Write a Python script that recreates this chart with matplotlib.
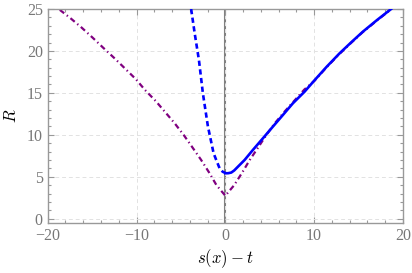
import numpy as np
import matplotlib.pyplot as plt
from matplotlib.ticker import MultipleLocator

plt.rcParams['font.family'] = ['Liberation Serif', 'DejaVu Serif']
plt.rcParams['mathtext.fontset'] = 'cm'

# purple dash-dot curve
purple_x = [-18.64, -17.5, -16.2, -14.96, -13.77, -12.45, -11.29, -10.09, -9.04, -7.84,
            -6.75, -5.7, -4.66, -3.71, -2.74, -1.84, -1.01, 0.0,
            1.0, 1.9, 2.75, 3.7, 4.6, 5.55, 6.7, 7.8, 8.9, 10.0, 11.4, 12.86, 14.2, 15.48, 17.1, 18.7]
purple_R = [24.9, 23.96, 22.8, 21.6, 20.4, 19.1, 17.9, 16.65, 15.34, 14.03,
            12.68, 11.37, 9.94, 8.51, 7.03, 5.53, 4.02, 2.74,
            4.0, 5.5, 7.0, 8.5, 9.95, 11.35, 12.8, 14.1, 15.4, 16.4, 18.05, 19.65, 21.0, 22.25, 23.65, 25.0]

# blue dashed branch (left of zero)
dash_x = [-3.85, -3.45, -2.97, -2.52, -1.96, -1.32, -0.95, -0.64, -0.3, 0.0]
dash_R = [25.0, 22.1, 18.9, 14.9, 11.0, 7.8, 6.8, 6.0, 5.6, 5.45]

# blue solid branch (right of zero)
solid_x = [0.0, 0.3, 0.67, 1.0, 1.42, 2.17, 3.1, 4.23, 5.35, 6.48, 7.6, 8.92, 10.0,
           11.4, 12.86, 14.2, 15.48, 17.1, 18.67]
solid_R = [5.42, 5.42, 5.5, 5.75, 6.2, 7.0, 8.19, 9.58, 10.97, 12.36, 13.75, 15.14, 16.45,
           18.1, 19.71, 21.05, 22.29, 23.7, 25.0]

grey = '#999999'
fig = plt.figure(figsize=(4.12, 2.73), dpi=100)
ax = fig.add_axes([0.1158, 0.1842, 0.8622, 0.7828])

ax.axvline(0, color='#808080', lw=1.5, zorder=1)
ax.plot(purple_x, purple_R, color='#800080', lw=1.6, dashes=(2.5, 1.5, 0.6, 1.5), zorder=2)
ax.plot(dash_x, dash_R, color='#0000ff', lw=1.9, dashes=(2.0, 1.3), zorder=3)
ax.plot(solid_x, solid_R, color='#0000ff', lw=1.9, zorder=3, solid_joinstyle='round')

ax.set_xlim(-20, 20)
ax.set_ylim(-0.48, 25)
ax.xaxis.set_major_locator(MultipleLocator(10))
ax.xaxis.set_minor_locator(MultipleLocator(2))
ax.yaxis.set_major_locator(MultipleLocator(5))
ax.yaxis.set_minor_locator(MultipleLocator(1))
ax.grid(True, which='major', color='#e2e2e2', ls=(0, (4, 3)), lw=0.7)
ax.tick_params(which='both', direction='in', top=True, right=True, colors=grey,
               labelcolor='#777777', labelsize=11.5, width=0.8)
ax.tick_params(which='major', length=4)
ax.tick_params(which='minor', length=2.5)
for s in ax.spines.values():
    s.set_color(grey)
    s.set_linewidth(1.0)

ax.set_xlabel('$s(x)-t$', fontsize=12, labelpad=3)
ax.set_ylabel('$R$', fontsize=12, labelpad=5)

fig.savefig('out.png', dpi=100)
